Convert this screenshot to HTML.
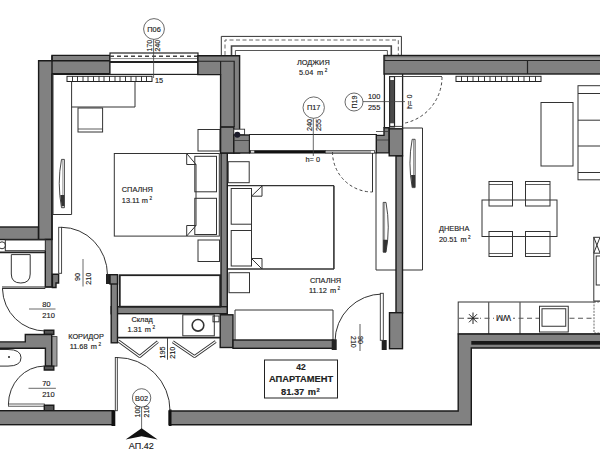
<!DOCTYPE html>
<html><head><meta charset="utf-8">
<style>
html,body{margin:0;padding:0;background:#fff;width:600px;height:450px;overflow:hidden}
svg{display:block}
text{font-family:"Liberation Sans",sans-serif;fill:#222;stroke:#222;stroke-width:0.15px}
.w{fill:#818181;stroke:#1a1a1a;stroke-width:1.4}
.wn{fill:#818181;stroke:none}
.f{fill:none;stroke:#333;stroke-width:1}
.fw{fill:#fff;stroke:#333;stroke-width:1}
.th{fill:none;stroke:#222;stroke-width:1.8}
.d{fill:none;stroke:#444;stroke-width:1;stroke-dasharray:3,2.5}
.t{font-size:7.35px}
</style></head><body>
<svg width="600" height="450" viewBox="0 0 600 450">
<!-- ===== LOGGIA RAILING ===== -->
<path d="M221.3,55 V36.4 H401.4 V55" fill="none" stroke="#333" stroke-width="1"/>
<path d="M225,55 V40 H398.3 V55" fill="none" stroke="#666" stroke-width="1" stroke-dasharray="4,2.5"/>
<path d="M231.5,55 V46 H391.3 V55" fill="none" stroke="#444" stroke-width="1.6"/>
<path d="M235.4,56 V50.5 H387.4 V56" fill="none" stroke="#444" stroke-width="0.9"/>

<!-- ===== TOP WALLS ===== -->
<!-- left exterior wall + top left wall -->
<path class="w" d="M38.6,60.7 H52 V55.4 H110 V74.3 H52 V239.5 H38.6 Z"/>
<path d="M52,60.7 H110 M52,55.4 V239.5" fill="none" stroke="#1a1a1a" stroke-width="1.4"/>
<line x1="52" y1="74" x2="110" y2="74" stroke="#1a1a1a" stroke-width="2"/>
<!-- window P06 -->
<rect x="110" y="53" width="88" height="21.4" fill="#fff" stroke="#222" stroke-width="1.2"/>
<line x1="110" y1="56.3" x2="198" y2="56.3" stroke="#444" stroke-width="1.5" stroke-dasharray="4,3"/>
<line x1="110" y1="58.6" x2="198" y2="58.6" stroke="#555" stroke-width="0.7"/>
<line x1="110" y1="62" x2="198" y2="62" stroke="#222" stroke-width="2"/>
<!-- right of window -->
<path class="w" d="M197.9,55.7 H239.6 V153 H220.6 V74.6 H197.9 Z"/>
<path d="M197.9,61.25 H234.2 V127 M220.6,61.25 V74.6" fill="none" stroke="#222" stroke-width="1.2"/>
<!-- bathroom top wall -->
<rect class="w" x="-2" y="227" width="40.4" height="12.5"/>
<path class="w" d="M45.3,239.5 H52 V287 H45.3 Z"/>
<line x1="2" y1="287" x2="52" y2="287" stroke="#222" stroke-width="1.2"/>

<!-- right top wall (living) -->
<rect class="w" x="384" y="55.5" width="220" height="18.5"/>
<rect x="386" y="57.5" width="216" height="3" fill="#9a9a9a"/>
<line x1="384" y1="60.5" x2="600" y2="60.5" stroke="#222" stroke-width="1"/>
<line x1="527.5" y1="60.5" x2="527.5" y2="74" stroke="#222" stroke-width="1.2"/>

<!-- radiators -->
<g>
<rect x="67" y="76.3" width="85" height="5.2" fill="#fff" stroke="#222" stroke-width="1"/>
<path d="M72.5,76.3V81.5M77.5,76.3V81.5M83.0,76.3V81.5M88.0,76.3V81.5M93.5,76.3V81.5M99.0,76.3V81.5M104.0,76.3V81.5M109.5,76.3V81.5M115.0,76.3V81.5M120.0,76.3V81.5M125.5,76.3V81.5M131.0,76.3V81.5M136.0,76.3V81.5M141.5,76.3V81.5M146.5,76.3V81.5" stroke="#222" stroke-width="0.9"/>
<rect x="456" y="76.3" width="85" height="5.2" fill="#fff" stroke="#222" stroke-width="1"/>
<path d="M461.5,76.3V81.5M467.5,76.3V81.5M473.0,76.3V81.5M478.5,76.3V81.5M484.5,76.3V81.5M490.0,76.3V81.5M495.5,76.3V81.5M501.5,76.3V81.5M507.0,76.3V81.5M512.5,76.3V81.5M518.5,76.3V81.5M524.0,76.3V81.5M529.5,76.3V81.5M535.5,76.3V81.5" stroke="#222" stroke-width="0.9"/>
</g>
<text x="155" y="83.2" class="t" style="font-size:7.3px">15</text>

<!-- P06 marker -->
<circle cx="154" cy="29" r="10.4" fill="#fff" stroke="#444" stroke-width="0.8"/>
<text x="154" y="31.5" class="t" text-anchor="middle">П06</text>
<line x1="153.6" y1="39.5" x2="153.6" y2="78" stroke="#444" stroke-width="0.8"/>
<text transform="translate(152,51.5) rotate(-90)" class="t" style="font-size:7px">170</text>
<text transform="translate(160,51.5) rotate(-90)" class="t" style="font-size:7px">240</text>

<!-- ===== BEDROOM 1 FURNITURE ===== -->
<path d="M71.6,81.6 V214.5 H53 V74" class="f"/>
<path d="M71.6,107 H135 V81.6" class="f"/>
<rect x="78" y="108" width="24.6" height="24" class="f"/>
<line x1="78" y1="129" x2="102.6" y2="129" stroke="#333" stroke-width="0.8"/>
<!-- wardrobe handle -->
<path d="M61.5,159.4 H64.4 V207.7 H61.5 Q57,183 61.5,159.4 Z" fill="#fff" stroke="#333" stroke-width="0.9"/><path d="M62.8,160 V207" stroke="#555" stroke-width="0.6"/><path d="M60.3,195 H64.4 V206 H61.5 Z" fill="#333"/>
<!-- nightstand -->
<rect x="198" y="129.5" width="22" height="21.5" class="f"/>
<!-- bed 1 -->
<rect x="114.3" y="153.5" width="105" height="82.6" class="f" stroke-width="1.1"/>
<path d="M196,164.5 V225.5" class="f"/>
<path d="M186.7,153.5 V164.5 H196 Z" class="f"/>
<path d="M186.7,236 V225.5 H196 Z" class="f"/>
<rect x="194.8" y="156.3" width="21.7" height="35.5" class="f"/>
<rect x="194.8" y="198.3" width="21.7" height="36.2" class="f"/>
<rect x="198" y="240" width="21.5" height="21.5" class="f"/>
<text x="121.8" y="192" class="t">СПАЛНЯ</text>
<text x="121.8" y="203.0" class="t">13.11 <tspan dx="0">m</tspan></text><text x="149.4" y="200.1" style="font-size:4.6px;">2</text>

<!-- partition wall bed1 / bed2 -->
<rect class="w" x="221" y="153" width="6.3" height="161"/>
<!-- corner block at loggia door -->
<rect class="w" x="220.6" y="127" width="13.2" height="26"/>
<rect x="233.8" y="129.2" width="10.8" height="5.6" fill="#fff" stroke="#333" stroke-width="0.9"/>
<rect class="w" x="233.8" y="135" width="15.7" height="18"/>
<line x1="233.8" y1="140.5" x2="249.5" y2="140.5" stroke="#333" stroke-width="0.8"/>
<circle cx="237.3" cy="134.8" r="3" fill="#1a1a2a"/>
<line x1="220.6" y1="127" x2="233.8" y2="127" stroke="#222" stroke-width="1"/>
<!-- loggia door sill -->
<rect x="249.5" y="134.5" width="127" height="18.4" fill="#fff" stroke="#222" stroke-width="1"/>
<rect x="249.5" y="150.2" width="76" height="3" fill="#111"/>
<rect x="250.8" y="150.7" width="3.5" height="2" fill="#ddd"/>
<rect x="325.5" y="150.5" width="49" height="2.6" fill="#b0b0b0" stroke="#333" stroke-width="0.7"/>
<rect x="371" y="150.9" width="3" height="1.8" fill="#fff"/>
<path class="w" d="M376.3,135.4 H384 V127.8 H389.2 V152.9 H376.3 Z"/>
<line x1="376.3" y1="140" x2="389.2" y2="140" stroke="#333" stroke-width="0.8"/>
<rect class="w" x="389.2" y="128.8" width="13.4" height="27"/>
<!-- loggia door jamb lines -->
<path d="M384.4,74 V128 M402.6,74 V128.8" fill="none" stroke="#222" stroke-width="1.3"/>
<rect x="389.6" y="76.5" width="5" height="50.5" fill="#4a4a4a" stroke="#1a1a1a" stroke-width="1"/>
<rect x="390.3" y="77.2" width="3.6" height="2.8" fill="#fff"/>
<rect x="390.3" y="123.3" width="3.6" height="2.8" fill="#fff"/>
<line x1="389.5" y1="76.5" x2="442" y2="76.5" stroke="#333" stroke-width="0.9"/>
<line x1="389.5" y1="126.4" x2="402.6" y2="126.4" stroke="#333" stroke-width="0.9"/>
<line x1="376" y1="131.5" x2="388" y2="131.5" stroke="#333" stroke-width="0.8"/>
<!-- P17 -->
<circle cx="313.7" cy="107.6" r="10.7" fill="#fff" stroke="#444" stroke-width="0.8"/>
<text x="313.7" y="110.2" class="t" text-anchor="middle">П17</text>
<line x1="313.3" y1="118.3" x2="313.3" y2="156" stroke="#444" stroke-width="0.8"/>
<text transform="translate(312.2,131) rotate(-90)" class="t" style="font-size:7.3px">240</text>
<text transform="translate(321,131) rotate(-90)" class="t" style="font-size:7.3px">255</text>
<text x="305.5" y="162" class="t">h= 0</text>

<!-- P19 -->
<circle cx="354" cy="102" r="9" fill="#fff" stroke="#444" stroke-width="0.8"/>
<text transform="translate(356.5,102) rotate(-90)" class="t" text-anchor="middle" style="font-size:7px">П19</text>
<line x1="363" y1="101.6" x2="405" y2="101.6" stroke="#444" stroke-width="0.8"/>
<text x="368" y="98.5" class="t">100</text>
<text x="368" y="109.5" class="t">255</text>
<text transform="translate(411.5,109) rotate(-90)" class="t">h= 0</text>

<!-- LOGGIA text -->
<text x="297" y="65" class="t">ЛОДЖИЯ</text>
<text x="299.0" y="75.0" class="t">5.04 <tspan dx="1.7">m</tspan></text><text x="324.7" y="72.1" style="font-size:4.6px;">2</text>

<!-- door arc bedroom2 from loggia -->
<path d="M332.5,152 A40,40 0 0 0 372.5,192" class="d"/>
<line x1="372.5" y1="153" x2="372.5" y2="192" stroke="#333" stroke-width="1"/>
<!-- door arc living from loggia -->
<path d="M442,77 A47,47 0 0 1 402.6,123.5" class="d"/>

<!-- ===== BEDROOM 2 ===== -->
<rect x="228.2" y="161.7" width="21" height="21" class="f"/>
<line x1="228" y1="185.7" x2="334" y2="185.7" stroke="#333" stroke-width="1.2"/>
<line x1="333.9" y1="185.7" x2="333.9" y2="269" stroke="#333" stroke-width="1.6"/>
<line x1="228" y1="269" x2="334" y2="269" stroke="#333" stroke-width="1.6"/>
<rect x="231.2" y="188.5" width="20.3" height="35.7" class="f"/>
<rect x="231.2" y="230.5" width="20.3" height="35.5" class="f"/>
<path d="M251.5,196.2 V258.5" class="f"/>
<path d="M262,186 V196.2 H251.5 Z" class="f"/>
<path d="M262,269 V258.5 H251.5 Z" class="f"/>
<rect x="229" y="272.7" width="20.5" height="20" class="f"/>
<text x="310" y="282.5" class="t">СПАЛНЯ</text>
<text x="309.0" y="293.0" class="t">11.12 <tspan dx="1.0">m</tspan></text><text x="337.6" y="290.1" style="font-size:4.6px;">2</text>
<!-- wardrobe bottom bed2 -->
<path d="M235,347 V310 H333 V341" class="f" stroke-width="1.1"/>
<!-- living wardrobe -->
<path d="M376,153 V270 H422.5 V128 H402.5" class="f"/>
<path d="M412.2,139.3 H415.1 V187.6 H412.2 Q407.7,163 412.2,139.3 Z" fill="#fff" stroke="#333" stroke-width="0.9"/><path d="M413.5,140 V187" stroke="#555" stroke-width="0.6"/><path d="M411,175 H415.1 V187 H412.2 Z" fill="#333"/>
<path d="M383.2,202.4 H386 Q390.5,227 386,252.2 H383.2 Z" fill="#fff" stroke="#333" stroke-width="0.9"/><path d="M384.6,203 V251.5" stroke="#555" stroke-width="0.6"/><path d="M383.2,239.8 H387.8 L386,252.2 H383.2 Z" fill="#333"/>
<!-- wall bedroom2/living -->
<rect class="w" x="396" y="156" width="6.5" height="157"/>
<rect class="w" x="389.5" y="312.7" width="13" height="36"/>
<rect x="381.7" y="340" width="5" height="10" fill="#222"/>
<!-- door bedroom2 -->
<path d="M382.5,294 A47.5,47.5 0 0 0 335,341.5" class="f"/>
<rect x="380.3" y="293.3" width="3" height="47" fill="#fff" stroke="#333" stroke-width="0.9"/>
<line x1="360" y1="324" x2="360" y2="351" stroke="#333" stroke-width="0.8"/>
<text transform="translate(358,336) rotate(90)" class="t" style="font-size:7px">90</text>
<text transform="translate(350.5,336) rotate(90)" class="t" style="font-size:7px">210</text>

<!-- ===== LIVING ===== -->
<rect x="578" y="85.7" width="30" height="94.1" class="f"/>
<path d="M578,93.5 H600 M578,120.2 H600 M578,146 H600 M578,172.5 H600" class="f"/>
<rect x="541" y="102.5" width="32" height="63.5" class="f"/>
<rect x="482" y="200" width="75" height="36.5" class="f"/>
<rect x="489" y="181.5" width="23.5" height="24.5" class="f"/>
<line x1="489" y1="184.5" x2="512.5" y2="184.5" stroke="#333" stroke-width="0.8"/>
<rect x="525.5" y="181.5" width="24.5" height="24.5" class="f"/>
<line x1="525.5" y1="184.5" x2="550" y2="184.5" stroke="#333" stroke-width="0.8"/>
<rect x="489" y="231.5" width="23.5" height="25" class="f"/>
<line x1="489" y1="253.5" x2="512.5" y2="253.5" stroke="#333" stroke-width="0.8"/>
<rect x="525.5" y="231.5" width="24.5" height="25" class="f"/>
<line x1="525.5" y1="253.5" x2="550" y2="253.5" stroke="#333" stroke-width="0.8"/>
<text x="439" y="231" class="t">ДНЕВНА</text>
<text x="439.0" y="242.0" class="t">20.51 <tspan dx="1.0">m</tspan></text><text x="468.1" y="239.1" style="font-size:4.6px;">2</text>
<!-- fridge -->
<rect x="593.8" y="237.3" width="10" height="63.7" class="f"/>
<path d="M593.8,237.3 L600,253 M600,237.3 L593.8,253 M593.8,253.2 H600" class="f" stroke-width="0.8"/>
<rect x="596.2" y="256" width="6" height="29" class="f" stroke-width="0.8"/>
<!-- kitchen counter -->
<rect x="458.2" y="302" width="145" height="32" class="f"/>

<path d="M488.75,302.25 V334 M520,302.25 V334" class="f"/>
<line x1="459" y1="318.25" x2="600" y2="318.25" fill="none" stroke="#555" stroke-width="1.1" stroke-dasharray="5,3.5"/>
<rect x="539.5" y="306.25" width="28.75" height="25.75" class="fw"/>
<rect x="542" y="308.75" width="23.75" height="17.5" class="f"/>
<rect x="466" y="311" width="14" height="14" fill="#fff"/><path d="M473,312.5 V324 M467.5,318.25 H478.5 M469,314.2 L477,322.3 M477,314.2 L469,322.3" stroke="#222" stroke-width="1"/>
<rect x="494" y="314" width="19" height="8" fill="#fff"/><text transform="translate(503.5,315) scale(1,-1)" class="t" text-anchor="middle" style="font-size:8.5px">MW</text>
<!-- fridge right lower -->
<rect x="594" y="302" width="8" height="31" fill="#fff" stroke="#444" stroke-width="0.8" stroke-dasharray="2,1.2"/>

<!-- ===== LOWER WALLS ===== -->
<path class="w" d="M169,411 H458.2 V334 H604 V348 H471.3 V424.7 H169 Z"/>
<rect x="471.3" y="341" width="132" height="3.7" fill="#1a1a1a"/>
<rect x="169" y="409.5" width="2.5" height="16.5" fill="#111"/>

<!-- bedroom 2 bottom wall & storage walls -->
<rect class="w" x="220.2" y="314.8" width="12.8" height="32.7"/>
<rect class="w" x="233" y="340" width="100" height="8.3"/>
<rect x="331.7" y="339.3" width="5" height="10.7" fill="#222"/>
<rect class="w" x="111.2" y="306.7" width="116" height="7"/>
<rect class="w" x="111.2" y="275.2" width="6.3" height="67.6"/>

<!-- bed 1 wardrobe -->
<rect x="119.8" y="275.2" width="100.4" height="31.5" class="th"/>
<!-- storage -->
<line x1="117.5" y1="337.6" x2="220.2" y2="337.6" stroke="#222" stroke-width="1.6"/>
<rect x="182.8" y="314.8" width="31.5" height="21" class="f"/>
<circle cx="198" cy="325.3" r="5.8" fill="none" stroke="#333" stroke-width="1.6"/>
<rect x="213" y="316" width="6" height="5.8" class="f"/>
<text x="131.5" y="322" class="t">Склад</text>
<text x="127.5" y="331.5" class="t">1.31 <tspan dx="1.0">m</tspan></text><text x="152.5" y="328.6" style="font-size:4.6px;">2</text>
<!-- folding doors -->
<path d="M118.5,341 L139.7,356.5 L157.8,341.7 M172.8,341.7 L194.5,356.5 L215.7,341.5" fill="none" stroke="#333" stroke-width="3" stroke-linejoin="bevel"/>
<path d="M118.5,341 L139.7,356.5 L157.8,341.7 M172.8,341.7 L194.5,356.5 L215.7,341.5" fill="none" stroke="#fff" stroke-width="1.2" stroke-linejoin="bevel"/>
<line x1="167.5" y1="338" x2="167.5" y2="359.7" stroke="#333" stroke-width="0.9"/>
<text transform="translate(165.3,358.5) rotate(-90)" class="t" style="font-size:7.2px">195</text>
<text transform="translate(175,358.8) rotate(-90)" class="t" style="font-size:7.2px">210</text>

<!-- bathroom area -->
<rect x="5.3" y="240" width="40" height="10.7" class="fw"/>
<circle cx="2" cy="245.3" r="3.5" class="f"/>
<line x1="0" y1="252.4" x2="45.3" y2="252.4" stroke="#222" stroke-width="1.6"/>
<path d="M11.3,254.6 H30.2 V274 Q30.2,283 20.8,283 Q11.3,283 11.3,274 Z" class="f"/>
<line x1="2" y1="288.5" x2="45.3" y2="288.5" stroke="#333" stroke-width="1"/>
<path class="w" d="M52.4,274.2 H58.6 V283 H56 V287.5 H52.4 Z" style="fill:#777"/>
<!-- door 90/210 -->
<path d="M61.6,227.3 A46,48 0 0 1 107.5,275" class="f"/>
<rect x="58.7" y="227.3" width="2.9" height="46" fill="#fff" stroke="#333" stroke-width="0.9"/>
<rect x="106" y="274" width="4" height="10" fill="#222"/><rect class="w" x="110" y="274.7" width="7.5" height="9.3"/>
<line x1="83" y1="259" x2="83" y2="286.5" stroke="#444" stroke-width="0.8"/>
<text transform="translate(80.3,281) rotate(-90)" class="t" style="font-size:7.3px">90</text>
<text transform="translate(90.5,284.8) rotate(-90)" class="t" style="font-size:7.3px">210</text>
<!-- door 80/210 -->
<path d="M2.5,289 A43,43 0 0 0 45.5,331" class="f"/>
<path class="w" d="M44.3,330.3 H53.8 V334.5 H44.3 Z" style="fill:#555"/>
<text x="42.3" y="307.2" class="t" style="font-size:7.5px">80</text>
<line x1="29" y1="309" x2="55.5" y2="309" stroke="#444" stroke-width="0.8"/>
<text x="42.3" y="317.5" class="t" style="font-size:7.5px">210</text>
<!-- bathroom 2 -->
<rect x="51.7" y="336.6" width="5.3" height="29.5" fill="#9a9a9a" stroke="#333" stroke-width="0.8"/>
<path class="w" d="M-2,341.9 H25.3 V334.5 H51.7 V366.1 H45.4 V348.2 H-2 Z"/>
<path class="w" d="M44.3,366.1 H53.8 V370 H44.3 Z" style="fill:#555"/>
<path d="M0,349.5 H8 Q21,349.5 21,357.7 Q21,366.1 8,366.1 H0" class="f"/>
<circle cx="9" cy="357" r="1" fill="#222"/>
<!-- door 70/210 -->
<path d="M8.4,404.5 A36,38.5 0 0 1 44.3,366.1" class="f"/>
<rect x="8.4" y="404" width="36" height="2.2" fill="#fff" stroke="#333" stroke-width="0.8"/>
<path class="w" d="M44.3,405.2 H53.8 V411 H44.3 Z" style="fill:#555"/>
<text x="42.2" y="386.3" class="t" style="font-size:7.5px">70</text>
<line x1="28.5" y1="388.3" x2="55.9" y2="388.3" stroke="#444" stroke-width="0.8"/>
<text x="42.2" y="396.8" class="t" style="font-size:7.5px">210</text>
<!-- bottom left wall -->
<rect class="w" x="-2" y="410.7" width="116" height="14"/>
<rect x="111.5" y="410.7" width="3.8" height="15.3" fill="#111"/>
<!-- entry door -->
<rect x="115.3" y="357.5" width="2" height="53.2" fill="#fff" stroke="#333" stroke-width="0.9"/>
<path d="M117,357.5 A53,53 0 0 1 170,410.7" class="f"/>
<text x="68.2" y="339.4" class="t">КОРИДОР</text>
<text x="69.7" y="349.0" class="t">11.68 <tspan dx="1.2">m</tspan></text><text x="98.5" y="346.1" style="font-size:4.6px;">2</text>
<!-- B02 -->
<circle cx="141.6" cy="397.9" r="9.2" fill="#fff" stroke="#444" stroke-width="0.8"/>
<text x="141.6" y="400.5" class="t" text-anchor="middle">В02</text>
<line x1="141.6" y1="407" x2="141.6" y2="432.5" stroke="#444" stroke-width="0.8"/>
<text transform="translate(139.5,417.5) rotate(-90)" class="t" style="font-size:7px">100</text>
<text transform="translate(149.3,417.5) rotate(-90)" class="t" style="font-size:7px">210</text>
<path d="M141.6,428.3 L125.6,439.4 L141.6,436.2 L157.6,439.4 Z" fill="#111"/>
<text x="128.8" y="449.3" class="t" style="font-size:9px">АП.42</text>

<!-- apartment label -->
<rect x="264.5" y="360" width="73" height="38" fill="#fff" stroke="#222" stroke-width="1"/>
<text x="301" y="369.5" text-anchor="middle" style="font-size:8.5px;font-weight:bold;fill:#222">42</text>
<text x="301" y="382.3" text-anchor="middle" style="font-size:9.3px;font-weight:bold;fill:#222">АПАРТАМЕНТ</text>
<text x="281.0" y="395.0" style="font-size:9.3px;font-weight:bold;fill:#222">81.37 <tspan dx="0.8">m</tspan></text><text x="316.6" y="392.1" style="font-size:5.8px;font-weight:bold;">2</text>
</svg>
</body></html>
